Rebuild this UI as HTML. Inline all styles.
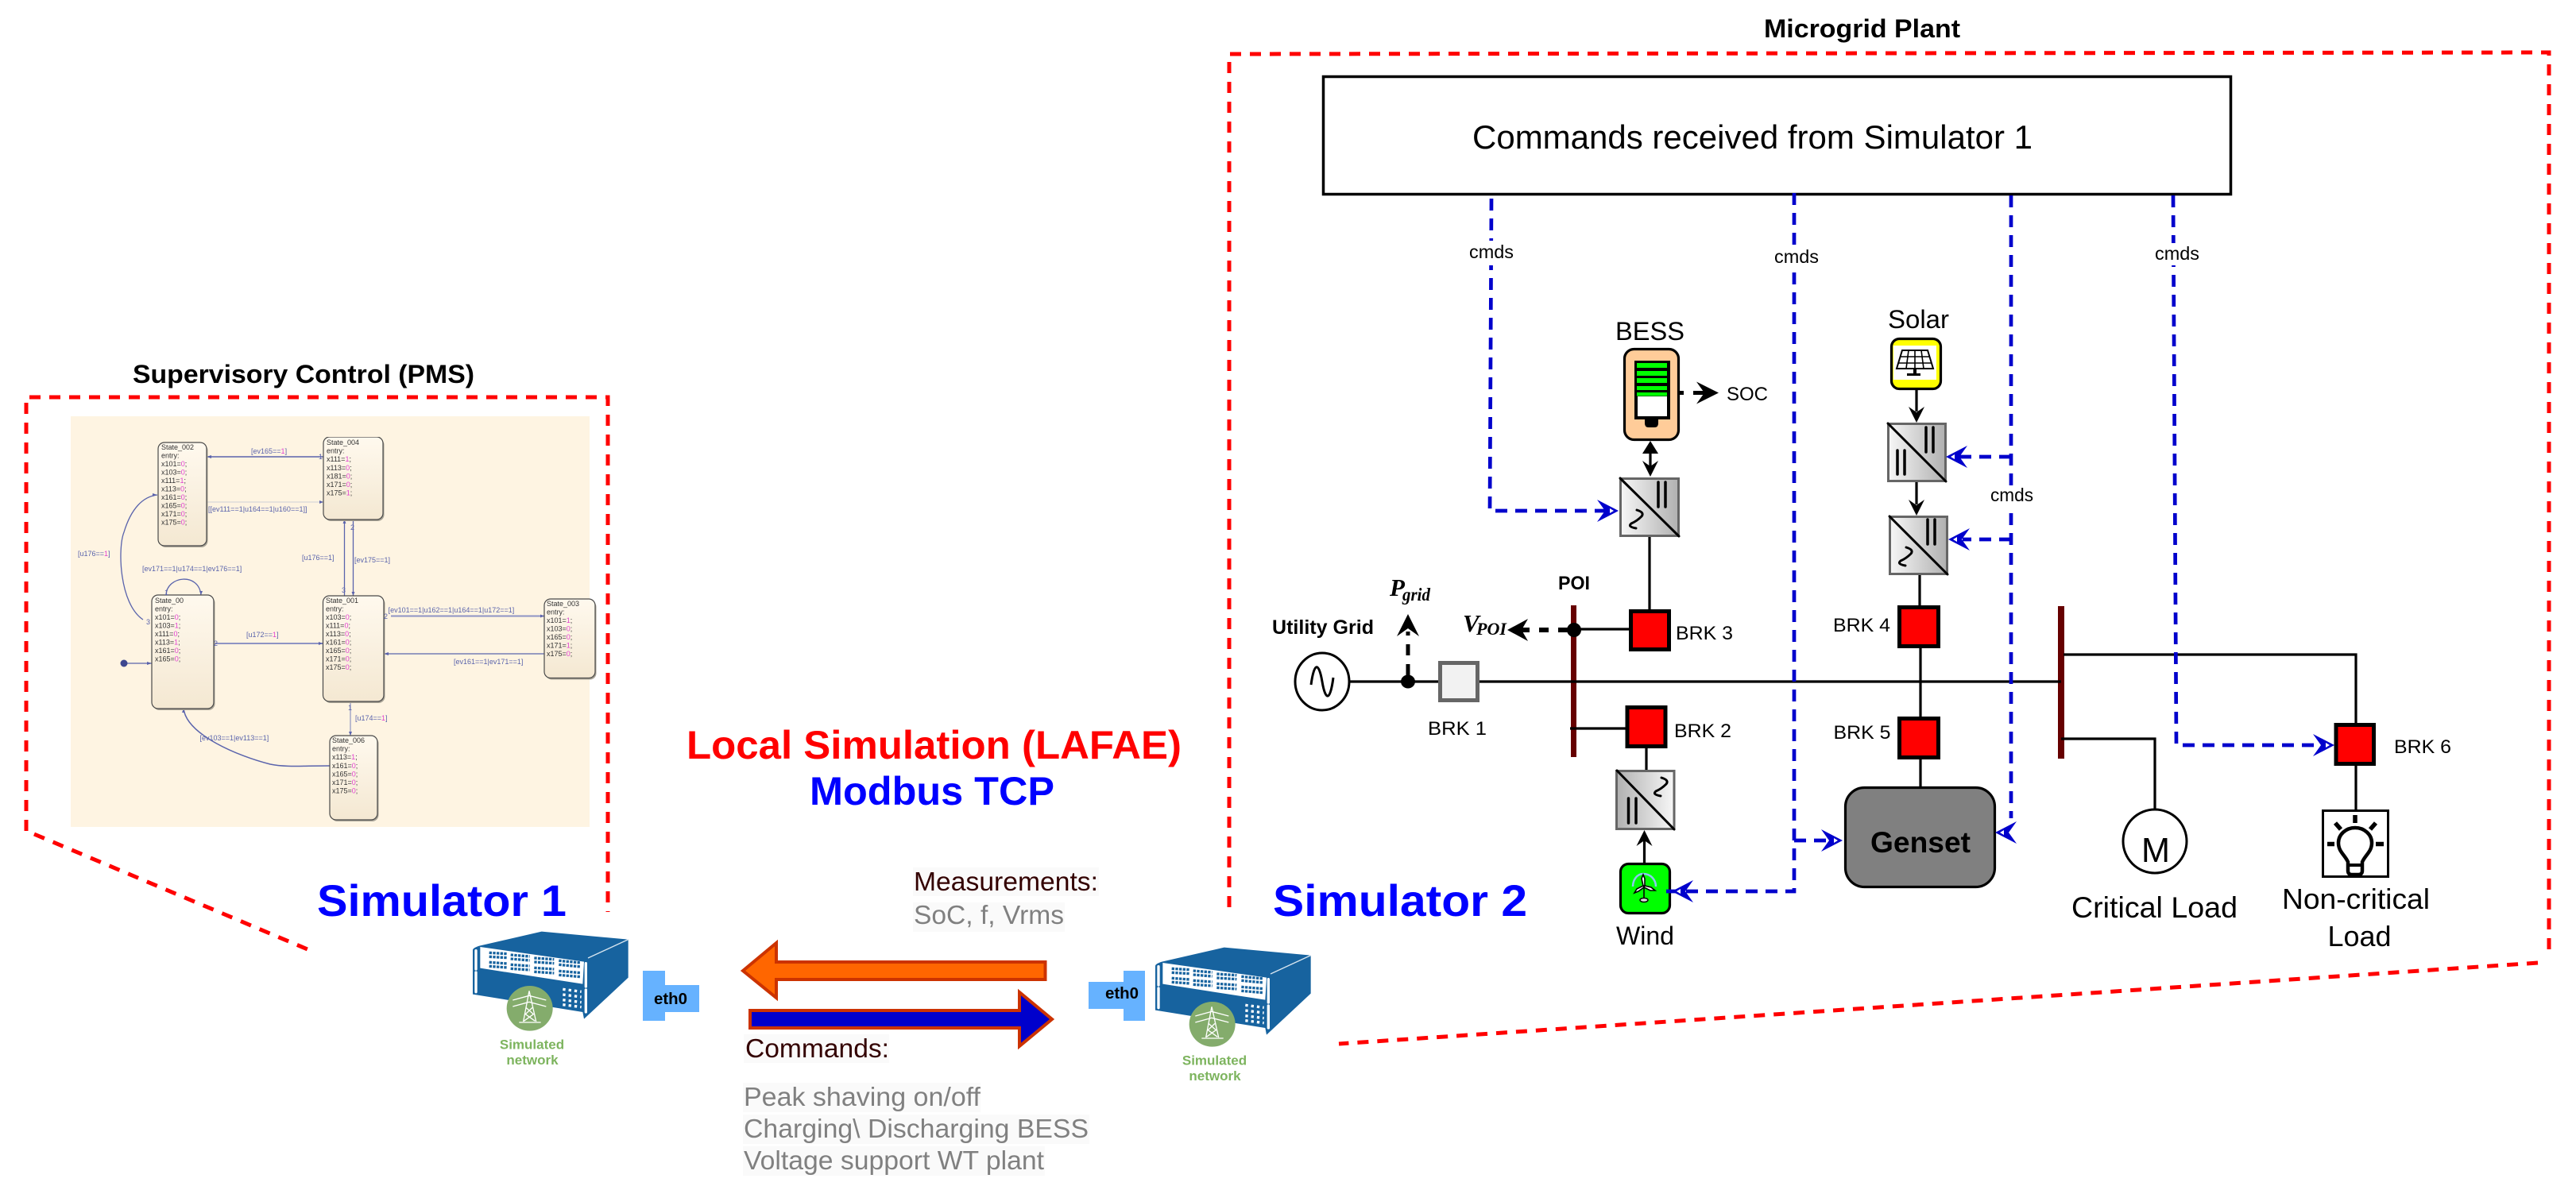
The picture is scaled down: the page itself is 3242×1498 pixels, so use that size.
<!DOCTYPE html>
<html><head><meta charset="utf-8"><title>Microgrid diagram</title>
<style>
html,body{margin:0;padding:0;background:#fff}
svg{display:block}
text{font-family:"Liberation Sans",sans-serif}
.s{font-size:9px;fill:#333}
.s tspan.v{fill:#e23fd0}
.t{font-size:9px;fill:#5a64ac}
.w{font-size:24px;fill:#000}
.g{font-size:33px;fill:#808080}
.d{font-size:33px;fill:#330000}
.c{font-size:23px;fill:#000}
.b{font-weight:bold}
</style></head><body>
<svg width="3242" height="1498" viewBox="0 0 3242 1498" xmlns="http://www.w3.org/2000/svg">
<defs>
<filter id="soft" x="0" y="0" width="100%" height="100%"><feGaussianBlur stdDeviation="0.35"/></filter>
<linearGradient id="lr"><stop offset="0" stop-color="#f7f7f7"/><stop offset="1" stop-color="#b0b0b0"/></linearGradient>
<linearGradient id="rl"><stop offset="0" stop-color="#b0b0b0"/><stop offset="1" stop-color="#f7f7f7"/></linearGradient>
<linearGradient id="st" x1="0" y1="0" x2="0" y2="1"><stop offset="0" stop-color="#fff9ee"/><stop offset="1" stop-color="#f4e8d2"/></linearGradient>
<g id="ba"><path d="M0 0L-27-14-17 0-27 14Z" fill="#0000cc"/><path d="M-6 0L-11-3-11 3Z" fill="#fff"/></g>
<path id="ka" d="M0 0L-28-14-18 0-28 14Z" fill="#000"/>
<path id="ks" d="M0 0L-20-10-13 0-20 10Z" fill="#000"/>
<path id="wv" d="M10 0Q20 3 16 8Q10 14 3 17Q-2 21 9 23" fill="none" stroke="#000" stroke-width="3" stroke-linecap="round"/>
<g id="srv" transform="scale(.33333)">
<path d="M105 78Q105 70 130 62L365 8 692 38V182L525 338 520 312 105 245Z" fill="#17639f"/>
<path d="M133 66L525 122 520 206 133 146Z" fill="#fff"/>
<path d="M540 108L692 38" stroke="#d8e6f0" stroke-width="4"/>
<path d="M117 80V150M117 162V236M532 128V216M532 228V312" stroke="#fff" stroke-width="10" stroke-linecap="round"/>
<g stroke="#17639f" stroke-width="10" stroke-dasharray="10 4" fill="none">
<path d="M167 88L235 92M167 103L235 107M167 124L235 129M167 139L235 144"/>
<path d="M248 96L320 102M248 111L320 117M248 133L320 138M248 148L320 153"/>
<path d="M337 108L412 113M337 123L412 128M337 145L412 150M337 160L412 165"/>
<path d="M430 118L513 126M430 133L513 141M430 157L513 164M430 172L513 179"/>
</g>
<g stroke="#fff" stroke-width="10" stroke-dasharray="10 12" fill="none">
<path d="M445 226L515 235M445 246L515 255M445 266L515 275M445 284L515 293"/>
</g>
<ellipse cx="320" cy="298" rx="87" ry="85" fill="#84ac6c"/>
<g stroke="#fff" stroke-width="4" fill="none"><path d="M318 232L296 348M318 232L344 348M280 351H362M256 267L318 250 382 267M256 291L318 274 382 291M306 295L334 320 298 346M330 295L304 320 340 346"/></g>
</g>
</defs>
<rect width="3242" height="1498" fill="#fff"/>

<!-- Left panel -->
<text x="167" y="482" class="b" font-size="32" textLength="430" lengthAdjust="spacingAndGlyphs">Supervisory Control (PMS)</text>
<g fill="none" stroke="#ff0000" stroke-width="5" stroke-dasharray="14 11">
<path d="M33 1046V500H765V1148"/>
<path d="M43 1050L387 1195" stroke-dasharray="14 11.65"/>
</g>
<rect x="89" y="524" width="653" height="517" fill="#fef4e2"/>

<g filter="url(#soft)">
<!-- state chart connectors -->
<g fill="none" stroke="#5a64ac" stroke-width="1.3">
<path d="M407 575H260" stroke-width="1.6"/>
<path d="M261 632H407" stroke="#d8d6d8"/>
<path d="M180 780C150 760 148 690 156 670C165 640 180 625 198 623"/>
<path d="M209 749C210 725 250 720 253 749"/>
<path d="M269 810H406" stroke="#8f94c4" stroke-width="2"/>
<path d="M160 835H191"/>
<path d="M433.5 654V750"/><path d="M444.5 654V750"/>
<path d="M492 775.5H685" stroke="#8f94c4" stroke-width="2"/>
<path d="M685 823H483"/>
<path d="M441 883V926" stroke="#9599c4"/>
<path d="M415 964C380 964 360 966 340 962C300 952 235 925 231 892" stroke-width="1.5"/>
</g>
<circle cx="156" cy="835" r="4.5" fill="#3d478f"/>
<g fill="#5a64ac">
<path d="M260 575l6-2v4zM407 632l-5-2v4zM198 623l-6-2v4zM253 749l-2-5h4zM191 835l-6-2v4zM406 810l-5-2v4zM433.5 654l-2 5h4zM444.5 750l-2-5h4zM685 775.5l-5-2v4zM483 823l6-2v4zM441 926l-2-5h4zM231 892l-2 5h4z"/>
</g>

<!-- states -->
<g stroke="#4a4a4a" stroke-width="1.2" fill="url(#st)">
<g><rect x="200.5" y="559" width="61" height="130" rx="8" fill="#a8a396" stroke="none"/><rect x="199" y="557" width="61" height="130" rx="8"/></g>
<g><rect x="408.5" y="552" width="75" height="104" rx="8" fill="#a8a396" stroke="none"/><rect x="407" y="550" width="75" height="104" rx="8"/></g>
<g><rect x="192.5" y="751" width="78" height="143" rx="8" fill="#a8a396" stroke="none"/><rect x="191" y="749" width="78" height="143" rx="8"/></g>
<g><rect x="408" y="752" width="76.5" height="133" rx="8" fill="#a8a396" stroke="none"/><rect x="406.5" y="750" width="76.5" height="133" rx="8"/></g>
<g><rect x="686.5" y="756" width="64" height="99.5" rx="8" fill="#a8a396" stroke="none"/><rect x="685" y="754" width="64" height="99.5" rx="8"/></g>
<g><rect x="416.5" y="928" width="60" height="106" rx="8" fill="#a8a396" stroke="none"/><rect x="415" y="926" width="60" height="106" rx="8"/></g>
</g>

<text class="s" y="566"><tspan x="203">State_002</tspan><tspan x="203" dy="10.5">entry:</tspan><tspan x="203" dy="10.5">x101=<tspan class="v">0</tspan>;</tspan><tspan x="203" dy="10.5">x103=<tspan class="v">0</tspan>;</tspan><tspan x="203" dy="10.5">x111=<tspan class="v">1</tspan>;</tspan><tspan x="203" dy="10.5">x113=<tspan class="v">0</tspan>;</tspan><tspan x="203" dy="10.5">x161=<tspan class="v">0</tspan>;</tspan><tspan x="203" dy="10.5">x165=<tspan class="v">0</tspan>;</tspan><tspan x="203" dy="10.5">x171=<tspan class="v">0</tspan>;</tspan><tspan x="203" dy="10.5">x175=<tspan class="v">0</tspan>;</tspan></text>
<text class="s" y="560"><tspan x="411">State_004</tspan><tspan x="411" dy="10.6">entry:</tspan><tspan x="411" dy="10.6">x111=<tspan class="v">1</tspan>;</tspan><tspan x="411" dy="10.6">x113=<tspan class="v">0</tspan>;</tspan><tspan x="411" dy="10.6">x181=<tspan class="v">0</tspan>;</tspan><tspan x="411" dy="10.6">x171=<tspan class="v">0</tspan>;</tspan><tspan x="411" dy="10.6">x175=<tspan class="v">1</tspan>;</tspan></text>
<text class="s" y="759"><tspan x="195">State_00</tspan><tspan x="195" dy="10.5">entry:</tspan><tspan x="195" dy="10.5">x101=<tspan class="v">0</tspan>;</tspan><tspan x="195" dy="10.5">x103=<tspan class="v">1</tspan>;</tspan><tspan x="195" dy="10.5">x111=<tspan class="v">0</tspan>;</tspan><tspan x="195" dy="10.5">x113=<tspan class="v">1</tspan>;</tspan><tspan x="195" dy="10.5">x161=<tspan class="v">0</tspan>;</tspan><tspan x="195" dy="10.5">x165=<tspan class="v">0</tspan>;</tspan></text>
<text class="s" y="759"><tspan x="410">State_001</tspan><tspan x="410" dy="10.5">entry:</tspan><tspan x="410" dy="10.5">x103=<tspan class="v">0</tspan>;</tspan><tspan x="410" dy="10.5">x111=<tspan class="v">0</tspan>;</tspan><tspan x="410" dy="10.5">x113=<tspan class="v">0</tspan>;</tspan><tspan x="410" dy="10.5">x161=<tspan class="v">0</tspan>;</tspan><tspan x="410" dy="10.5">x165=<tspan class="v">0</tspan>;</tspan><tspan x="410" dy="10.5">x171=<tspan class="v">0</tspan>;</tspan><tspan x="410" dy="10.5">x175=<tspan class="v">0</tspan>;</tspan></text>
<text class="s" y="763"><tspan x="688">State_003</tspan><tspan x="688" dy="10.5">entry:</tspan><tspan x="688" dy="10.5">x101=<tspan class="v">1</tspan>;</tspan><tspan x="688" dy="10.5">x103=<tspan class="v">0</tspan>;</tspan><tspan x="688" dy="10.5">x165=<tspan class="v">0</tspan>;</tspan><tspan x="688" dy="10.5">x171=<tspan class="v">1</tspan>;</tspan><tspan x="688" dy="10.5">x175=<tspan class="v">0</tspan>;</tspan></text>
<text class="s" y="935"><tspan x="418">State_006</tspan><tspan x="418" dy="10.6">entry:</tspan><tspan x="418" dy="10.6">x113=<tspan class="v">1</tspan>;</tspan><tspan x="418" dy="10.6">x161=<tspan class="v">0</tspan>;</tspan><tspan x="418" dy="10.6">x165=<tspan class="v">0</tspan>;</tspan><tspan x="418" dy="10.6">x171=<tspan class="v">0</tspan>;</tspan><tspan x="418" dy="10.6">x175=<tspan class="v">0</tspan>;</tspan></text>

<g class="tl">
<text class="t" x="316" y="571">[ev165==<tspan fill="#e23fd0">1</tspan>]</text>
<text class="t" x="262" y="644">[[ev111==1|u164==1|u160==1]]</text>
<text class="t" x="98" y="700">[u176==<tspan fill="#e23fd0">1</tspan>]</text>
<text class="t" x="179" y="719">[ev171==1|u174==1|ev176==1]</text>
<text class="t" x="310" y="802">[u172==<tspan fill="#e23fd0">1</tspan>]</text>
<text class="t" x="380" y="705">[u176==1]</text>
<text class="t" x="446" y="708">[ev175==1]</text>
<text class="t" x="488.6" y="771">[ev101==1|u162==1|u164==1|u172==1]</text>
<text class="t" x="571" y="836">[ev161==1|ev171==1]</text>
<text class="t" x="447" y="907">[u174==<tspan fill="#e23fd0">1</tspan>]</text>
<text class="t" x="251.5" y="932">[ev103==1|ev113==1]</text>
<text class="t" x="184" y="786">3</text><text class="t" x="269" y="813">2</text><text class="t" x="441" y="667">2</text><text class="t" x="430" y="746">3</text><text class="t" x="483" y="779">2</text><text class="t" x="438" y="894">1</text><text class="t" x="401" y="578">1</text><text class="t" x="207" y="749">1</text>
</g>
</g>

<!-- Simulator labels -->
<text x="399" y="1153" class="b" font-size="56" fill="#0000ff" textLength="314" lengthAdjust="spacingAndGlyphs">Simulator 1</text>
<text x="1602" y="1153" class="b" font-size="56" fill="#0000ff" textLength="320" lengthAdjust="spacingAndGlyphs">Simulator 2</text>
<text x="864" y="955" class="b" font-size="50" fill="#ff0000" textLength="623" lengthAdjust="spacingAndGlyphs">Local Simulation (LAFAE)</text>
<text x="1019" y="1013" class="b" font-size="50" fill="#0000ff" textLength="308" lengthAdjust="spacingAndGlyphs">Modbus TCP</text>

<!-- servers -->
<use href="#srv" transform="translate(560,1170)"/>
<use href="#srv" transform="translate(1419,1190)"/>
<g class="b" font-size="17" fill="#7db45e" text-anchor="middle">
<text x="669.5" y="1320.5">Simulated</text><text x="670" y="1340">network</text>
<text x="1528.5" y="1340.5">Simulated</text><text x="1529" y="1360">network</text>
</g>
<path d="M809 1222H837V1240H880V1274H837V1285H809Z" fill="#66b2ff"/>
<path d="M1414 1222H1441V1285H1414V1270H1370V1236H1414Z" fill="#66b2ff"/>
<text x="823" y="1264" class="b" font-size="20.5" textLength="42" lengthAdjust="spacingAndGlyphs">eth0</text>
<text x="1391" y="1257" class="b" font-size="20.5" textLength="42" lengthAdjust="spacingAndGlyphs">eth0</text>

<!-- comm text bg -->
<g fill="#fafafa">
<rect x="1149" y="1092" width="234" height="36"/><rect x="1149" y="1136" width="191" height="37"/>
<rect x="936" y="1302" width="183" height="36"/><rect x="935" y="1363" width="299" height="37"/><rect x="935" y="1403" width="436" height="37"/><rect x="935" y="1443" width="380" height="37"/>
</g>
<text class="d" x="1150" y="1121" textLength="232" lengthAdjust="spacingAndGlyphs">Measurements:</text>
<text class="g" x="1150" y="1163" textLength="189" lengthAdjust="spacingAndGlyphs">SoC, f, Vrms</text>
<text class="d" x="938" y="1331" textLength="181" lengthAdjust="spacingAndGlyphs">Commands:</text>
<text class="g" x="936" y="1392" textLength="298" lengthAdjust="spacingAndGlyphs">Peak shaving on/off</text>
<text class="g" x="936" y="1432" textLength="434" lengthAdjust="spacingAndGlyphs">Charging\ Discharging BESS</text>
<text class="g" x="936" y="1472" textLength="378" lengthAdjust="spacingAndGlyphs">Voltage support WT plant</text>
<path d="M935 1222L977 1187V1211H1315.5V1233H977V1256Z" fill="#ff6600" stroke="#cc3300" stroke-width="4"/>
<path d="M944 1272H1283V1249L1324 1283 1283 1317V1294H944Z" fill="#0000cc" stroke="#cc3300" stroke-width="4"/>

<!-- Right plant frame -->
<text x="2220" y="47" class="b" font-size="32" textLength="247" lengthAdjust="spacingAndGlyphs">Microgrid Plant</text>
<g fill="none" stroke="#ff0000" stroke-width="5" stroke-dasharray="14 11">
<path d="M1547 1142V68L3208 66V1199"/>
<path d="M3194 1212L1685 1314"/>
</g>
<rect x="1665.5" y="96.5" width="1142" height="148" fill="#fff" stroke="#000" stroke-width="3.5"/>
<text x="1853" y="187" font-size="42" textLength="705" lengthAdjust="spacingAndGlyphs">Commands received from Simulator 1</text>

<!-- buses -->
<rect x="1977" y="762" width="7" height="191" fill="#660000"/>
<rect x="2590" y="763" width="8" height="192" fill="#660000"/>

<!-- black wiring -->
<g fill="none" stroke="#000" stroke-width="3.2">
<path d="M1699 858H2594"/>
<path d="M1981 792H2050"/>
<path d="M1976 917H2046"/>
<path d="M2076 676V767"/>
<path d="M2072 942V969"/>
<path d="M2416 724V762"/>
<path d="M2417 816V902"/>
<path d="M2417 956V990"/>
<path d="M2597 824H2965V911"/>
<path d="M2594 930H2712V1019"/>
<path d="M2965 964V1019"/>
<path d="M2077 562V592"/>
<path d="M2412 491V518"/>
<path d="M2412 607V635"/>
<path d="M2069.5 1086V1058"/>
</g>

<!-- grid source -->
<ellipse cx="1664" cy="858" rx="34" ry="36" fill="#fff" stroke="#000" stroke-width="3"/>
<path d="M1650 862C1654 832 1660 834 1664 858C1668 882 1674 884 1678 853" fill="none" stroke="#000" stroke-width="3"/>
<ellipse cx="1772" cy="858" rx="9" ry="8.5" fill="#000"/>
<ellipse cx="1981" cy="793" rx="9" ry="9" fill="#000"/>
<path d="M1772 850V795" stroke="#000" stroke-width="5" stroke-dasharray="14 11" fill="none"/>
<use href="#ka" transform="translate(1772,773) rotate(-90)"/>
<path d="M1973 793H1915" stroke="#000" stroke-width="6" stroke-dasharray="12 12" fill="none"/>
<path d="M1897 793L1923 779 1915 793 1923 807Z" fill="#000"/>
<rect x="1812.5" y="834.5" width="47" height="47" fill="#f2f2f2" stroke="#666" stroke-width="5"/>

<!-- breakers -->
<g fill="#ff0000" stroke="#000" stroke-width="5">
<rect x="2052.5" y="769.5" width="48" height="48"/>
<rect x="2048" y="890.5" width="48" height="49"/>
<rect x="2390.5" y="764.5" width="49" height="49"/>
<rect x="2390.5" y="904.5" width="49" height="49"/>
<rect x="2940" y="912.5" width="47.5" height="49"/>
</g>

<!-- converters -->
<g stroke="#666" stroke-width="3">
<rect x="2039.5" y="602.5" width="73" height="72" fill="url(#lr)"/>
<rect x="2034.5" y="970.5" width="72.5" height="73" fill="url(#rl)"/>
<rect x="2376.5" y="533.5" width="72" height="72" fill="url(#lr)"/>
<rect x="2378.5" y="650.5" width="72" height="72" fill="url(#lr)"/>
</g>
<g stroke="#000" stroke-width="3" stroke-linecap="round" fill="none">
<path d="M2039 602L2113 675"/><path d="M2035 970L2107 1044"/><path d="M2376 533L2449 606"/><path d="M2378 650L2451 723"/>
<g stroke-width="3.5">
<path d="M2087 607V638M2096 607V638"/>
<path d="M2049.5 1005V1036M2059 1005V1036"/>
<path d="M2424 538V569M2433 538V569M2388 567V597M2397 567V597"/>
<path d="M2426 654V685M2435 654V685"/>
</g>
</g>
<use href="#wv" transform="translate(2050,642)"/>
<use href="#wv" transform="translate(2389,689)"/>
<use href="#wv" transform="translate(2081,979)"/>

<!-- BESS -->
<rect x="2044.5" y="439.5" width="68" height="114" rx="12" fill="#ffcc99" stroke="#000" stroke-width="3.2"/>
<path d="M2070 527H2087V533Q2087 538 2082 538H2075Q2070 538 2070 533Z" fill="#000"/>
<rect x="2059" y="456" width="41" height="70" fill="#fff" stroke="#000" stroke-width="4"/>
<rect x="2061" y="456" width="37" height="43" fill="#000"/>
<g fill="#00ff00"><rect x="2060" y="457" width="38" height="6"/><rect x="2060" y="467" width="38" height="6"/><rect x="2060" y="476" width="38" height="6"/><rect x="2060" y="486" width="38" height="5"/><rect x="2060" y="494" width="38" height="4.5"/></g>
<path d="M2114 494.5H2119M2131 494.5H2145" stroke="#000" stroke-width="5" fill="none"/>
<use href="#ka" transform="translate(2163,494.5)"/>
<path d="M2077 555L2067 571H2087Z" fill="#000"/>
<use href="#ks" transform="translate(2077,600) rotate(90)"/>
<use href="#ks" transform="translate(2412,532) rotate(90)"/>
<use href="#ks" transform="translate(2412,649) rotate(90)"/>
<use href="#ks" transform="translate(2069.5,1045) rotate(-90)"/>

<!-- Solar -->
<rect x="2380.5" y="426.5" width="62" height="63" rx="10" fill="#ffff00" stroke="#000" stroke-width="3.2"/>
<rect x="2383" y="435" width="54" height="43" fill="#fff"/>
<g fill="none" stroke="#000" stroke-width="1.6"><path d="M2394 441H2426L2433 464H2387Z" stroke-width="2"/><path d="M2392 449H2428M2389 457H2431M2402 441L2399 464M2410 441V464M2418 441L2421 464"/></g>
<path d="M2408 464H2412V470H2417V473H2400V470H2408Z" fill="#000"/>

<!-- Wind -->
<rect x="2039.5" y="1087.5" width="62" height="62" rx="10" fill="#00ff00" stroke="#000" stroke-width="3.2"/>
<path d="M2055 1116C2055 1108 2060 1100 2068 1100C2078 1100 2084 1108 2084 1116" fill="none" stroke="#8cc8f0" stroke-width="2.5"/>
<g stroke="#000" stroke-width="1.6" fill="#fff"><path d="M2069 1116V1132" fill="none"/><path d="M2068 1115L2066 1106 2068 1101 2070 1106 2070 1115Z"/><path d="M2068 1115L2060 1119 2057 1124 2062 1122 2069 1117Z"/><path d="M2070 1115L2078 1117 2083 1121 2077 1121 2069 1117Z"/></g>
<ellipse cx="2069" cy="1133" rx="5" ry="2.5" fill="#ddd" stroke="#000" stroke-width="1.5"/>

<!-- Genset -->
<rect x="2322.5" y="991.5" width="188" height="125" rx="24" fill="#808080" stroke="#000" stroke-width="3.2"/>
<text x="2354" y="1073" class="b" font-size="37" textLength="126" lengthAdjust="spacingAndGlyphs">Genset</text>

<!-- Motor -->
<ellipse cx="2712" cy="1059" rx="40" ry="40" fill="#fff" stroke="#000" stroke-width="3"/>
<text x="2695" y="1085" font-size="44" textLength="36" lengthAdjust="spacingAndGlyphs">M</text>

<!-- Non-critical load -->
<rect x="2923.5" y="1020.5" width="82" height="83" fill="#fff" stroke="#000" stroke-width="3"/>
<path d="M2955 1085C2951 1076 2943 1072 2943 1061A21 19 0 0 1 2985 1061C2985 1072 2977 1076 2973 1085V1096Q2973 1101 2968 1101H2960Q2955 1101 2955 1096Z" fill="#fff" stroke="#000" stroke-width="4.5"/>
<path d="M2955 1089H2973" stroke="#000" stroke-width="4"/>
<path d="M2964 1026V1036M2929 1062.5H2938M2990 1062.5H3000M2939 1036L2946 1044M2990 1036L2983 1044" stroke="#000" stroke-width="5.5" fill="none"/>

<!-- blue dashed control lines -->
<g fill="none" stroke="#0000cc" stroke-width="4.7" stroke-dasharray="15 10">
<path d="M1877 250L1875 643H2025"/>
<path d="M2258 243V1122H2095"/>
<path d="M2258 1058H2305"/>
<path d="M2531 246V1030"/>
<path d="M2531 575H2465"/>
<path d="M2531 679H2470"/>
<path d="M2735 246L2739 938H2920"/>
</g>
<use href="#ba" transform="translate(2037,643)"/>
<use href="#ba" transform="translate(2104,1122) rotate(180)"/>
<use href="#ba" transform="translate(2319,1058)"/>
<use href="#ba" transform="translate(2511,1048) rotate(180)"/>
<use href="#ba" transform="translate(2449,575) rotate(180)"/>
<use href="#ba" transform="translate(2452,679) rotate(180)"/>
<use href="#ba" transform="translate(2938,938)"/>

<!-- cmds labels -->
<g fill="#fff"><rect x="1845" y="303" width="60" height="31"/><rect x="2230" y="310" width="60" height="30"/><rect x="2500" y="612" width="62" height="27"/><rect x="2708" y="306" width="62" height="28"/></g>
<text class="c" x="1849" y="325" textLength="56" lengthAdjust="spacingAndGlyphs">cmds</text>
<text class="c" x="2233" y="331" textLength="56" lengthAdjust="spacingAndGlyphs">cmds</text>
<text class="c" x="2505" y="631" textLength="54" lengthAdjust="spacingAndGlyphs">cmds</text>
<text class="c" x="2712" y="327" textLength="56" lengthAdjust="spacingAndGlyphs">cmds</text>

<!-- labels -->
<text x="2033" y="428" font-size="32" textLength="87" lengthAdjust="spacingAndGlyphs">BESS</text>
<text x="2376" y="413" font-size="32" textLength="77" lengthAdjust="spacingAndGlyphs">Solar</text>
<text x="2034" y="1189" font-size="32" textLength="73" lengthAdjust="spacingAndGlyphs">Wind</text>
<text x="2173" y="504" class="w" textLength="52" lengthAdjust="spacingAndGlyphs">SOC</text>
<text x="2109" y="805" class="w" textLength="72" lengthAdjust="spacingAndGlyphs">BRK 3</text>
<text x="2107" y="928" class="w" textLength="72" lengthAdjust="spacingAndGlyphs">BRK 2</text>
<text x="2307" y="795" class="w" textLength="72" lengthAdjust="spacingAndGlyphs">BRK 4</text>
<text x="2307.5" y="930" class="w" textLength="72" lengthAdjust="spacingAndGlyphs">BRK 5</text>
<text x="3013" y="948" class="w" textLength="72" lengthAdjust="spacingAndGlyphs">BRK 6</text>
<text x="1797" y="925" class="w" textLength="74" lengthAdjust="spacingAndGlyphs">BRK 1</text>
<text x="1961" y="742" class="b" font-size="24" textLength="40" lengthAdjust="spacingAndGlyphs">POI</text>
<text x="1601" y="798" class="b" font-size="25" textLength="128" lengthAdjust="spacingAndGlyphs">Utility Grid</text>
<text x="2607" y="1155" font-size="37" textLength="209" lengthAdjust="spacingAndGlyphs">Critical Load</text>
<text x="2872" y="1144" font-size="36" textLength="186" lengthAdjust="spacingAndGlyphs">Non-critical</text>
<text x="2929.5" y="1191" font-size="36" textLength="80" lengthAdjust="spacingAndGlyphs">Load</text>
<text x="1749" y="750" font-size="31" font-weight="bold" font-style="italic" style="font-family:'Liberation Serif',serif">P</text>
<text x="1765" y="756" font-size="23" font-weight="bold" font-style="italic" style="font-family:'Liberation Serif',serif" textLength="35" lengthAdjust="spacingAndGlyphs">grid</text>
<text x="1841" y="795" font-size="31" font-weight="bold" font-style="italic" style="font-family:'Liberation Serif',serif">V</text>
<text x="1858" y="799" font-size="22" font-weight="bold" font-style="italic" style="font-family:'Liberation Serif',serif" textLength="38" lengthAdjust="spacingAndGlyphs">POI</text>
</svg>
</body></html>
